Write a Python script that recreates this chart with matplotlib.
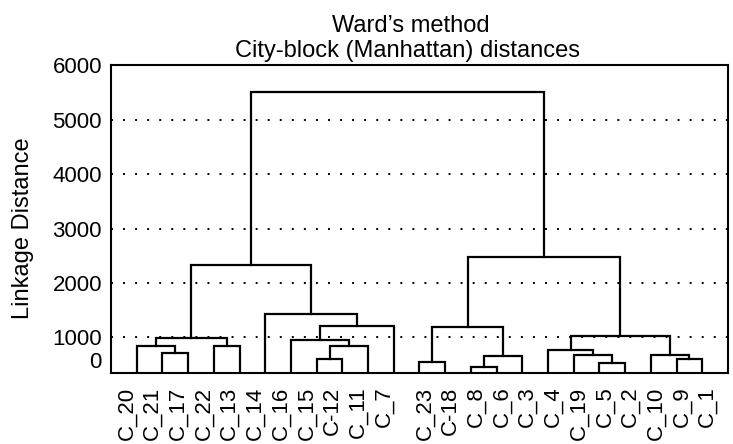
import numpy as np
import matplotlib
matplotlib.use("Agg")
import matplotlib.pyplot as plt

plt.rcParams["font.family"] = ["Liberation Sans", "DejaVu Sans"]

# Leaf order along the x axis
leaves = ["C_20", "C_21", "C_17", "C_22", "C_13", "C_14", "C_16", "C_15", "C-12",
          "C_11", "C_7", "C_23", "C-18", "C_8", "C_6", "C_3", "C_4", "C_19", "C_5",
          "C_2", "C_10", "C_9", "C_1"]

# Merges: new node, left child, right child, linkage distance
merge_node = ["L1", "L2", "L3", "L4", "M1", "M2", "M3", "M4", "M5", "A",
              "R1", "R2", "R3", "R4", "S1", "S2", "S3", "T1", "T2", "U", "B", "ROOT"]
merge_left = ["C_21", "C_20", "C_22", "L2", "C_15", "M1", "C_16", "M3", "C_14", "L4",
              "C_23", "C_8", "R2", "R1", "C_5", "C_19", "C_4", "C_9", "C_10", "S3", "R4", "A"]
merge_right = ["C_17", "L1", "C_13", "L3", "C-12", "C_11", "M2", "C_7", "M4", "M5",
               "C-18", "C_6", "C_3", "R3", "C_2", "S1", "S2", "C_1", "T1", "T2", "U", "B"]
merge_height = [556, 759, 759, 989, 389, 767, 925, 1214, 1429, 2330,
                322, 183, 489, 1184, 278, 500, 647, 397, 509, 1024, 2472, 5513]

yticks = [0, 1000, 2000, 3000, 4000, 5000, 6000]


# y axis in the picture is squeezed below 1000
def fwd(v):
    v = np.asarray(v, dtype=float)
    return np.where(v < 1000, v * 0.662, v - 338.0)


def inv(y):
    y = np.asarray(y, dtype=float)
    return np.where(y < 662, y / 0.662, y + 338.0)


fig = plt.figure(figsize=(7.33, 4.44), dpi=100)
ax = fig.add_axes([0.1514, 0.1592, 0.8418, 0.6933])
ax.set_yscale("function", functions=(fwd, inv))

# dotted reference lines
for t in yticks[1:-1]:
    ax.axhline(t, color="black", lw=1.4, linestyle=(0, (1, 5.2)), zorder=1)

pos = {name: (i, 0.0) for i, name in enumerate(leaves)}
for node, l, r, h in zip(merge_node, merge_left, merge_right, merge_height):
    xl, yl = pos[l]
    xr, yr = pos[r]
    ax.plot([xl, xl, xr, xr], [yl, h, h, yr], color="black", lw=1.6,
            solid_joinstyle="miter", zorder=3)
    pos[node] = ((xl + xr) / 2, h)

ax.set_xlim(-1, len(leaves))
ax.set_ylim(0, 6000)

ax.set_yticks(yticks)
ax.set_yticklabels([str(t) for t in yticks], fontsize=16)
ax.tick_params(axis="y", length=0, pad=6.5)
ax.get_yticklabels()[0].set_verticalalignment("bottom")

# labels sit slightly off the leaves in the original
shift = [-0.39] * 11 + [0.2] * 12
ax.set_xticks([i + s for i, s in enumerate(shift)])
ax.set_xticklabels(leaves, rotation=90, fontsize=16)
ax.tick_params(axis="x", length=0, pad=9.5)

for sp in ax.spines.values():
    sp.set_linewidth(1.5)

fig.text(23 / 733, 1 - 228 / 444, "Linkage Distance", rotation=90,
         ha="center", va="center", fontsize=17)
fig.text(411 / 733, 1 - 31.7 / 444, "Ward\u2019s method", ha="center",
         va="baseline", fontsize=17)
fig.text(407 / 733, 1 - 56.7 / 444, "City-block (Manhattan) distances",
         ha="center", va="baseline", fontsize=17)

fig.savefig("out.png", dpi=100)
